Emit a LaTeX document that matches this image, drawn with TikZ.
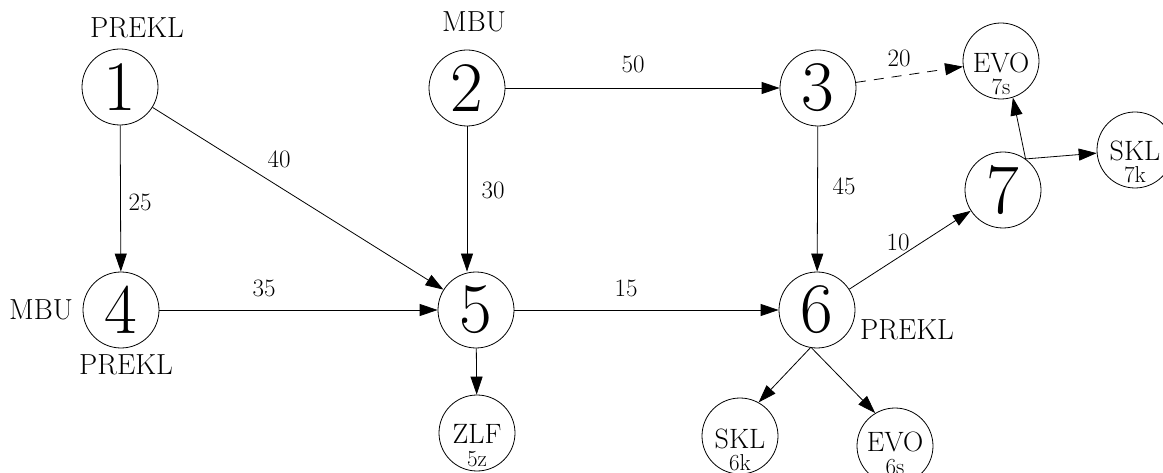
\documentclass[tikz,border=0pt]{standalone}
\usepackage{fontspec}
\usetikzlibrary{arrows.meta}
\tikzset{
  big/.style={draw, circle, line width=0.8pt, minimum size=76pt, inner sep=0pt, font=\fontsize{71}{71}\selectfont},
  small/.style={draw, circle, line width=0.8pt, minimum size=76pt, inner sep=0pt},
  inname/.style={inner sep=0pt, font=\fontsize{28}{28}\selectfont},
  sub/.style={inner sep=0pt, font=\fontsize{23}{23}\selectfont},
  tag/.style={inner sep=0pt, font=\fontsize{29}{29}\selectfont},
  wt/.style={inner sep=0pt, font=\fontsize{25}{25}\selectfont},
  arr/.style={line width=0.8pt, -{Triangle[length=18pt,width=12pt]}},
}
\begin{document}
\begin{tikzpicture}[x=1pt,y=-1pt]
\useasboundingbox (0,0) rectangle (1163,473);
\clip (0,0) rectangle (1163,473);
% main nodes
\node[big] (n1) at (120,87) {1};
\node[big] (n2) at (467,88) {2};
\node[big] (n3) at (818,88) {3};
\node[big] (n4) at (121,310) {4};
\node[big] (n5) at (476,310) {5};
\node[big] (n6) at (817,310) {6};
\node[big] (n7) at (1003,190) {7};
% small nodes
\node[small] (evo7) at (1001,61) {};
\node[inname] (evo7t) at (1001,63) {EVO};
\node[sub] (evo7s) at (1001,87) {7s};
\node[small] (skl7) at (1135,150) {};
\node[inname] (skl7t) at (1135,151) {SKL};
\node[sub] (skl7s) at (1135,175) {7k};
\node[small] (zlf) at (477,433) {};
\node[inname] (zlft) at (477,434) {ZLF};
\node[sub] (zlfs) at (477,459) {5z};
\node[small] (skl6) at (740,436) {};
\node[inname] (skl6t) at (740,439) {SKL};
\node[sub] (skl6s) at (740,463) {6k};
\node[small] (evo6) at (895,446) {};
\node[inname] (evo6t) at (895,442) {EVO};
\node[sub] (evo6s) at (895,467) {6s};
% tags
\node[tag] (t1) at (137,28) {PREKL};
\node[tag] (t2) at (474,22) {MBU};
\node[tag] (t4a) at (41,310) {MBU};
\node[tag] (t4b) at (126,365) {PREKL};
\node[tag] (t6) at (907,330) {PREKL};
% edges
\draw[arr] (n1) -- (n4);
\draw[arr] (n1) -- (n5);
\draw[arr] (n2.south) -- (n2.south |- n5.north);
\draw[arr] (n2) -- (n3);
\draw[arr, dashed, dash pattern=on 10pt off 8pt] (n3) -- (evo7);
\draw[arr] (n3) -- (n6);
\draw[arr] (n4) -- (n5);
\draw[arr] (n5) -- (n6);
\draw[arr] (n5) -- (zlf);
\draw[arr] (n6) -- (n7);
\draw[arr] (n6.260) -- (skl6.61);
\draw[arr] (n6.262) -- (evo6.121);
\draw[arr] (n7.54) -- (evo7.-72);
\draw[arr] (n7.54) -- (skl7);
% weights
\node[wt] (w40) at (279,159) {40};
\node[wt] (w25) at (140,202) {25};
\node[wt] (w30) at (493,190) {30};
\node[wt] (w50) at (633,64) {50};
\node[wt] (w20) at (899,58) {20};
\node[wt] (w45) at (844,186) {45};
\node[wt] (w10) at (898,242) {10};
\node[wt] (w35) at (264,288) {35};
\node[wt] (w15) at (626,288) {15};
\end{tikzpicture}
\end{document}
